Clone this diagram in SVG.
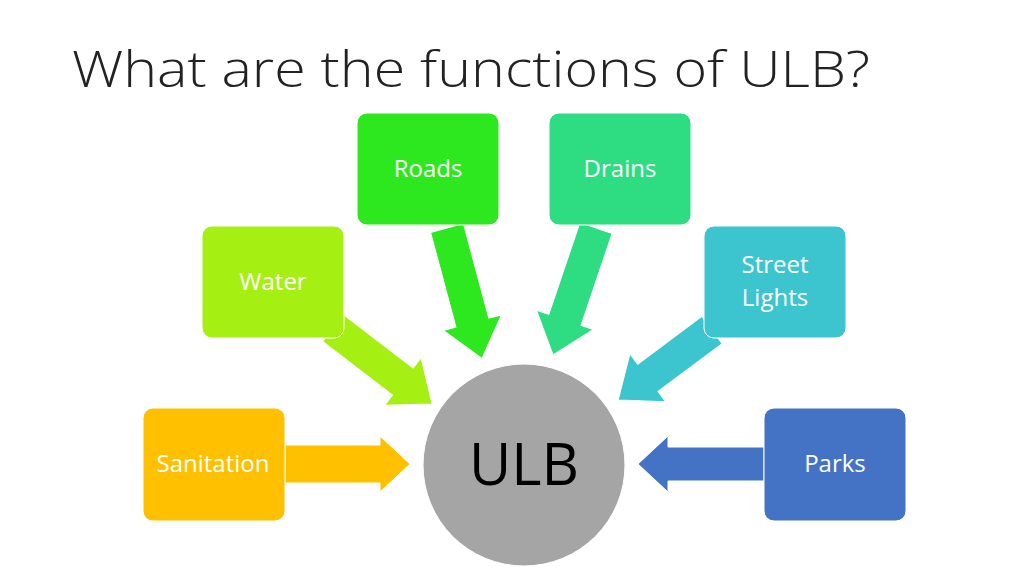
<svg xmlns="http://www.w3.org/2000/svg" width="1024" height="576" viewBox="0 0 1024 576">
<style>
.box{stroke:#fff;stroke-width:1}
.lbl{font-family:"Open Sans","Liberation Sans",sans-serif;font-size:24px;fill:#fff;text-anchor:middle}
.arr{stroke:#fff;stroke-width:1}
</style>
<rect width="1024" height="576" fill="#fff"/>
<text x="72" y="87" font-family="Open Sans,Liberation Sans,sans-serif" font-weight="300" font-size="50" fill="#222" textLength="798" lengthAdjust="spacingAndGlyphs">What are the functions of ULB?</text>
<g id="connectors">
<path class="arr" fill="#ffc000" transform="translate(285,464) rotate(0)" d="M0,-19 H95 V-28 L125,0 L95,28 V19 H0 Z"/>
<path class="arr" fill="#4472c4" transform="translate(764,464) rotate(180)" d="M0,-17 H96 V-28 L126,0 L96,28 V17 H0 Z"/>
<path class="arr" fill="#a5f012" transform="translate(333,328) rotate(37.5)" d="M0,-17 H88 V-30 L125,0 L88,30 V17 H0 Z"/>
<path class="arr" fill="#2ee81f" transform="translate(447,228) rotate(75)" d="M0,-17 H98 V-30 L135,0 L98,30 V17 H0 Z"/>
<path class="arr" fill="#2edc82" transform="translate(596,228) rotate(108.7)" d="M0,-17 H97 V-30 L134,0 L97,30 V17 H0 Z"/>
<path class="arr" fill="#3cc5cf" transform="translate(712,330) rotate(143.3)" d="M0,-17 H80 V-30 L117,0 L80,30 V17 H0 Z"/>
</g>
<g id="ulb"><circle cx="524" cy="465" r="101" fill="#a5a5a5" stroke="#fff"/><text x="524" y="485" font-family="Open Sans,Liberation Sans,sans-serif" font-size="58" text-anchor="middle" fill="#000">ULB</text></g>
<g id="sanitation"><rect class="box" x="143" y="408" width="142" height="113" rx="10" fill="#ffc000"/><text class="lbl" x="213" y="472">Sanitation</text></g>
<g id="parks"><rect class="box" x="764" y="408" width="142" height="113" rx="10" fill="#4472c4"/><text class="lbl" x="835" y="472">Parks</text></g>
<g id="water"><rect class="box" x="202" y="226" width="142" height="112" rx="10" fill="#a5f012"/><text class="lbl" x="273" y="290">Water</text></g>
<g id="streetlights"><rect class="box" x="704" y="226" width="142" height="112" rx="10" fill="#3cc5cf"/><text class="lbl" x="775" y="273">Street</text><text class="lbl" x="775" y="306">Lights</text></g>
<g id="roads"><rect class="box" x="357" y="113" width="142" height="112" rx="10" fill="#2ee81f"/><text class="lbl" x="428" y="177">Roads</text></g>
<g id="drains"><rect class="box" x="549" y="113" width="142" height="112" rx="10" fill="#2edc82"/><text class="lbl" x="620" y="177">Drains</text></g>
</svg>
